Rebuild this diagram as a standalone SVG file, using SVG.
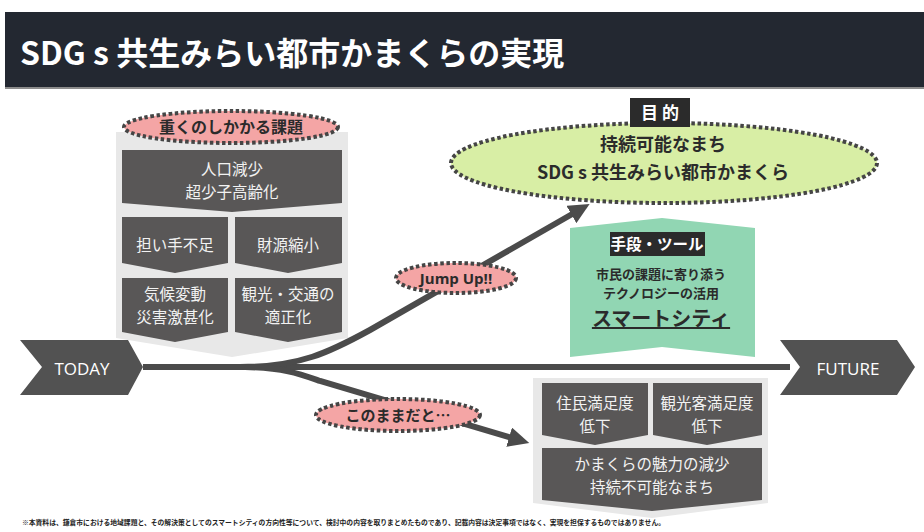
<svg xmlns="http://www.w3.org/2000/svg" width="924" height="532" viewBox="0 0 924 532">
<defs>
<style>
.jp{font-family:"Noto Sans CJK JP","Noto Sans",sans-serif}
.lat{font-family:"Open Sans","Noto Sans",sans-serif}
.box{fill:#595757}
.panel{fill:#e8e8e8}
.bt{fill:#f2f2f2;font-size:15.5px;text-anchor:middle}
.dot{stroke:#454545;stroke-width:4;stroke-dasharray:3.5 2.6}
.pink{fill:#f4a5a5}
.lbl{fill:#2b2b2b;font-weight:bold;text-anchor:middle}
.conn{fill:none;stroke:#4b4b4b;stroke-width:6}
.chev{fill:#525252}
</style>
<marker id="ah" markerUnits="userSpaceOnUse" markerWidth="22" markerHeight="20" refX="3" refY="10" orient="auto">
<path d="M0,0 L21,10 L0,20 z" fill="#4b4b4b"/>
</marker>
</defs>
<rect width="924" height="532" fill="#ffffff"/>
<g id="title">
<rect x="5" y="12" width="919" height="75" fill="#232831"/>
<rect x="5" y="87" width="919" height="2" fill="#8c8c8c"/>
<text x="20" y="65" class="jp" font-size="32" font-weight="bold" fill="#ffffff">SDG s 共生みらい都市かまくらの実現</text>
</g>
<g id="connectors">
<path class="conn" d="M143,367 L790,367"/>
<path class="conn" d="M240,367 C300,367 330,352 370,330 L574,213" marker-end="url(#ah)"/>
<path class="conn" d="M245,367 C285,368 300,374 320,381 L512,438" marker-end="url(#ah)"/>
</g>
<g id="today">
<path class="chev" d="M20,340 L128,340 L143,367 L128,395 L20,395 L42,367 z"/>
<text x="82" y="375" class="lat" font-size="17" fill="#ffffff" text-anchor="middle">TODAY</text>
</g>
<g id="future">
<path class="chev" d="M780,340 L897,340 L915,367 L897,395 L780,395 L800,367 z"/>
<text x="848" y="375" class="lat" font-size="17" fill="#ffffff" text-anchor="middle">FUTURE</text>
</g>
<g id="issues">
<path class="panel" d="M116,132 L348,132 L348,338 L232,357 L116,338 z"/>
<path class="box" d="M122,150 L342,150 L342,203 L232,212 L122,203 z"/>
<text class="jp bt" x="232" y="175">人口減少</text>
<text class="jp bt" x="232" y="197.5">超少子高齢化</text>
<path class="box" d="M122,217 L228,217 L228,263 L175,273 L122,263 z"/>
<text class="jp bt" x="175" y="251">担い手不足</text>
<path class="box" d="M235,217 L342,217 L342,263 L288,273 L235,263 z"/>
<text class="jp bt" x="288" y="251">財源縮小</text>
<path class="box" d="M122,278 L228,278 L228,332 L175,342 L122,332 z"/>
<text class="jp bt" x="175" y="300">気候変動</text>
<text class="jp bt" x="175" y="322.5">災害激甚化</text>
<path class="box" d="M235,278 L342,278 L342,332 L288,342 L235,332 z"/>
<text class="jp bt" x="288" y="300">観光・交通の</text>
<text class="jp bt" x="288" y="322.5">適正化</text>
<ellipse class="pink dot" cx="231" cy="127" rx="107" ry="16"/>
<text class="jp lbl" x="231" y="133" font-size="16">重くのしかかる課題</text>
</g>
<g id="goal">
<ellipse class="dot" cx="664" cy="163" rx="213" ry="40" fill="#d8eea5"/>
<rect x="630" y="98" width="60" height="29" fill="#2b2b2b"/>
<text class="jp" x="660" y="119" font-size="17" font-weight="bold" fill="#ffffff" text-anchor="middle">目 的</text>
<text class="jp lbl" x="663" y="151" font-size="18">持続可能なまち</text>
<text class="jp lbl" x="663" y="179" font-size="18">SDG s 共生みらい都市かまくら</text>
</g>
<g id="tools">
<path d="M570,228 L662,218 L755,228 L755,357 L662,347 L570,357 z" fill="#91d6b3"/>
<rect x="610" y="232" width="95" height="24" fill="#2b2b2b"/>
<text class="jp" x="657" y="250" font-size="15.5" font-weight="bold" fill="#ffffff" text-anchor="middle">手段・ツール</text>
<text class="jp lbl" x="661" y="278.5" font-size="13" fill="#1e1e1e">市民の課題に寄り添う</text>
<text class="jp lbl" x="661" y="297.5" font-size="13" fill="#1e1e1e">テクノロジーの活用</text>
<text class="jp lbl" x="661" y="326" font-size="20" fill="#111111" text-decoration="underline">スマートシティ</text>
</g>
<g id="jumpup">
<ellipse class="pink dot" cx="456" cy="278" rx="60" ry="15"/>
<text class="lat lbl" x="456" y="284" font-size="15">Jump Up!!</text>
</g>
<g id="ifnothing">
<ellipse class="pink dot" cx="398" cy="415" rx="82" ry="16"/>
<text class="jp lbl" x="398" y="421" font-size="15">このままだと…</text>
</g>
<g id="outcome">
<path class="panel" d="M533,378 L768,378 L768,503 L652,518 L533,503 z"/>
<path class="box" d="M542,383 L648,383 L648,435 L595,445 L542,435 z"/>
<text class="jp bt" x="595" y="409">住民満足度</text>
<text class="jp bt" x="595" y="431.5">低下</text>
<path class="box" d="M653,383 L762,383 L762,435 L707,445 L653,435 z"/>
<text class="jp bt" x="707" y="409" font-size="15">観光客満足度</text>
<text class="jp bt" x="707" y="431.5">低下</text>
<path class="box" d="M542,448 L762,448 L762,500 L652,511 L542,500 z"/>
<text class="jp bt" x="652" y="470">かまくらの魅力の減少</text>
<text class="jp bt" x="652" y="492.5">持続不可能なまち</text>
</g>
<g id="footer">
<text class="jp" x="22" y="525" font-size="7" font-weight="bold" fill="#222222" textLength="643" lengthAdjust="spacingAndGlyphs">※本資料は、鎌倉市における地域課題と、その解決策としてのスマートシティの方向性等について、検討中の内容を取りまとめたものであり、記載内容は決定事項ではなく、実現を担保するものではありません。</text>
</g>
</svg>
